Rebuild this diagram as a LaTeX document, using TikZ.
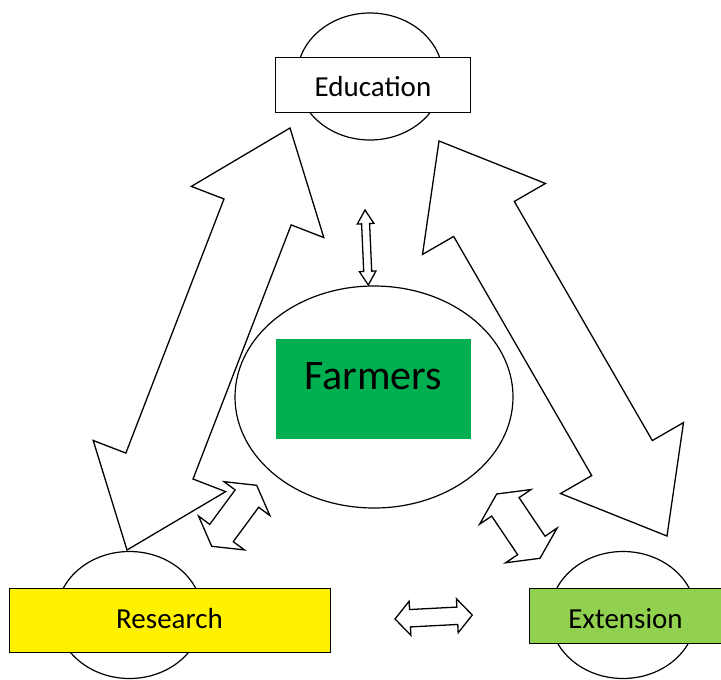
\documentclass[tikz,border=0pt]{standalone}
\usepackage{fontspec}
\setmainfont{Carlito}
\usetikzlibrary{shapes.geometric,calc}
\definecolor{farmgreen}{RGB}{0,176,80}
\definecolor{extgreen}{RGB}{146,208,80}
% two-headed block arrow: #1,#2 tips, #3 head length, #4 head half width, #5 shaft half width
\newcommand{\dblarrow}[5]{%
  \draw[blockarrow] (#1)
    -- ($(#1)!#3pt!(#2)!#4pt!90:(#2)$) -- ($(#1)!#3pt!(#2)!#5pt!90:(#2)$)
    -- ($(#2)!#3pt!(#1)!#5pt!-90:(#1)$) -- ($(#2)!#3pt!(#1)!#4pt!-90:(#1)$)
    -- (#2)
    -- ($(#2)!#3pt!(#1)!#4pt!90:(#1)$) -- ($(#2)!#3pt!(#1)!#5pt!90:(#1)$)
    -- ($(#1)!#3pt!(#2)!#5pt!-90:(#2)$) -- ($(#1)!#3pt!(#2)!#4pt!-90:(#2)$)
    -- cycle;}
\begin{document}
\begin{tikzpicture}[x=1pt,y=-1pt,
    ring/.style={draw,ellipse,line width=1.2pt,inner sep=0pt,minimum width=146pt,minimum height=127pt},
    labelbox/.style={draw,line width=0.9pt,inner sep=0pt,minimum height=55pt,text depth=0pt,font=\fontsize{29}{34}\selectfont},
    blockarrow/.style={draw,fill=white,line width=1.3pt,line join=miter}]
    \useasboundingbox (0,0) rectangle (721,680);
    % arrow ends
    \coordinate (eduL) at (290,128);
    \coordinate (resT) at (127,550);
    \coordinate (eduR) at (439,141);
    \coordinate (extT) at (667,536);
    \coordinate (eduB) at (365,210);
    \coordinate (farmT) at (368.3,285);
    \coordinate (resA) at (211.7,546.3);
    \coordinate (farmL) at (256.7,485.3);
    \coordinate (farmR) at (496.7,494);
    \coordinate (extA) at (540,558.3);
    \coordinate (resR) at (395,619);
    \coordinate (extL) at (472.3,615);
    \dblarrow{eduL}{resT}{90}{71}{36}
    \dblarrow{eduR}{extT}{90}{71}{35}
    \dblarrow{eduB}{farmT}{13.7}{8.3}{4}
    \dblarrow{resA}{farmL}{16.5}{28.5}{14.6}
    \dblarrow{farmR}{extA}{15.5}{31}{16.5}
    \dblarrow{resR}{extL}{15}{17}{8.7}
    % circles
    \node[ring] (educirc) at (370,76.5) {};
    \node[ring] (rescirc) at (129.5,615) {};
    \node[ring] (extcirc) at (623,615) {};
    \node[ring,minimum width=278pt,minimum height=222pt] (farmcirc) at (374,397) {};
    % boxes
    \node[labelbox,fill=white,minimum width=195pt,text height=23.8pt] (edu) at (373,84.8) {Education};
    \node[labelbox,fill=yellow,minimum width=321pt,minimum height=64pt,text height=16.6pt] (res) at (169.5,620) {Research};
    \node[labelbox,fill=extgreen,minimum width=193pt,text height=25.6pt] (ext) at (625.5,615.5) {Extension};
    \node[fill=farmgreen,inner sep=0pt,minimum width=194.7pt,minimum height=100.8pt,
        text height=14pt,text depth=14pt,font=\fontsize{42}{48}\selectfont] (farm) at (373.3,389) {Farmers};
\end{tikzpicture}
\end{document}
